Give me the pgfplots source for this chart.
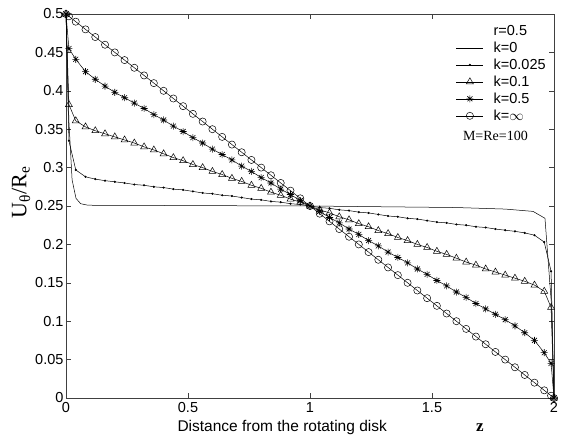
\documentclass[border=0pt]{standalone}
\usepackage{fontspec}
\setmainfont{Liberation Sans}
\newfontfamily\seriff{Liberation Serif}
\usepackage{pgfplots}
\usepackage{pgfplotstable}
\pgfplotsset{compat=1.18}

\pgfdeclareplotmark{mstar}{%
 \pgfpathmoveto{\pgfqpoint{-\pgfplotmarksize}{0pt}}\pgfpathlineto{\pgfqpoint{\pgfplotmarksize}{0pt}}%
 \pgfpathmoveto{\pgfqpoint{0pt}{-\pgfplotmarksize}}\pgfpathlineto{\pgfqpoint{0pt}{\pgfplotmarksize}}%
 \pgfpathmoveto{\pgfqpoint{-0.707\pgfplotmarksize}{-0.707\pgfplotmarksize}}\pgfpathlineto{\pgfqpoint{0.707\pgfplotmarksize}{0.707\pgfplotmarksize}}%
 \pgfpathmoveto{\pgfqpoint{-0.707\pgfplotmarksize}{0.707\pgfplotmarksize}}\pgfpathlineto{\pgfqpoint{0.707\pgfplotmarksize}{-0.707\pgfplotmarksize}}%
 \pgfusepathqstroke}

\pgfplotstableread{
z      kinf   k05    k01    k0025
0      0.500  0.500  0.500  0.500
0.012  0.497  0.455  0.382  0.335
0.04   0.490  0.441  0.361  0.297
0.08   0.480  0.425  0.353  0.288
0.12   0.470  0.415  0.348  0.285
0.16   0.460  0.406  0.344  0.283
0.20   0.450  0.398  0.340  0.2815
0.24   0.440  0.391  0.336  0.280
0.28   0.430  0.384  0.332  0.278
0.32   0.420  0.377  0.327  0.277
0.36   0.410  0.369  0.323  0.275
0.40   0.400  0.362  0.318  0.274
0.44   0.390  0.354  0.313  0.272
0.48   0.380  0.347  0.309  0.271
0.52   0.370  0.339  0.304  0.269
0.56   0.360  0.332  0.300  0.267
0.60   0.350  0.324  0.295  0.266
0.64   0.340  0.317  0.291  0.264
0.68   0.330  0.310  0.286  0.263
0.72   0.320  0.302  0.282  0.261
0.76   0.310  0.295  0.277  0.259
0.80   0.300  0.287  0.273  0.258
0.84   0.290  0.280  0.268  0.256
0.88   0.280  0.272  0.264  0.255
0.92   0.270  0.265  0.259  0.253
0.96   0.260  0.257  0.255  0.252
1.00   0.250  0.250  0.250  0.250
1.04   0.240  0.243  0.245  0.248
1.08   0.230  0.235  0.241  0.247
1.12   0.220  0.228  0.236  0.245
1.16   0.210  0.220  0.232  0.244
1.20   0.200  0.213  0.227  0.242
1.24   0.190  0.205  0.223  0.241
1.28   0.180  0.198  0.218  0.239
1.32   0.170  0.190  0.214  0.237
1.36   0.160  0.183  0.209  0.236
1.40   0.150  0.176  0.205  0.234
1.44   0.140  0.168  0.200  0.233
1.48   0.130  0.161  0.196  0.231
1.52   0.120  0.153  0.191  0.229
1.56   0.110  0.146  0.187  0.228
1.60   0.100  0.138  0.182  0.226
1.64   0.090  0.131  0.177  0.225
1.68   0.080  0.123  0.173  0.223
1.72   0.070  0.116  0.168  0.222
1.76   0.060  0.109  0.164  0.220
1.80   0.050  0.102  0.160  0.2185
1.84   0.040  0.094  0.156  0.217
1.88   0.030  0.085  0.152  0.215
1.92   0.020  0.075  0.147  0.212
1.96   0.010  0.059  0.139  0.203
1.988  0.003  0.045  0.118  0.165
2.0    0.000  0.000  0.000  0.000
}\datatable

\begin{document}
\begin{tikzpicture}
\useasboundingbox (-66pt,-42pt) rectangle (500pt,398pt);
\begin{axis}[
  at={(0,0)}, anchor=south west,
  scale only axis, width=488pt, height=384pt,
  clip mode=individual,
  xmin=0, xmax=2, ymin=0, ymax=0.5,
  xtick={0,0.5,1,1.5,2},
  ytick={0,0.05,0.1,0.15,0.2,0.25,0.3,0.35,0.4,0.45,0.5},
  scaled ticks=false,
  xticklabels={0,0.5,1,1.5,2},
  yticklabels={0,0.05,0.1,0.15,0.2,0.25,0.3,0.35,0.4,0.45,0.5},
  tick align=inside, major tick length=5pt,
  tick style={black!75, line width=0.5pt},
  axis line style={black!75, line width=0.6pt},
  ticklabel style={font=\fontsize{14.5}{16}\selectfont},
  xticklabel style={yshift=-1pt},
  yticklabel style={xshift=1pt},
  legend image code/.code={\draw[mark repeat=2,mark phase=2,#1] plot coordinates {(0pt,0pt) (13.5pt,0pt) (27pt,0pt)};},
  legend style={draw=none, fill=none, at={(0.797,0.978)}, anchor=north west,
    font=\fontsize{14.5}{16}\selectfont, row sep=2pt, inner sep=1pt,
    nodes={inner sep=1.5pt},
    /tikz/every odd column/.append style={column sep=8.5pt}},
  legend cell align=left,
  every axis plot/.append style={black, line width=0.5pt},
]
\addlegendimage{empty legend}
\addlegendentry{r=0.5}
\addplot[no marks] coordinates {
(0,0.5) (0.012,0.36) (0.025,0.284) (0.041,0.26) (0.06,0.253) (0.09,0.251)
(1.0,0.250) (1.6,0.248) (1.8,0.246) (1.914,0.243) (1.963,0.234) (1.99,0.12) (2.0,0)};
\addlegendentry{k=0}
\addplot[mark=*, mark size=0.8pt] table[x=z,y=k0025] {\datatable};
\addlegendentry{k=0.025}
\addplot[mark=triangle, mark size=4pt, mark options={line width=0.5pt}] table[x=z,y=k01] {\datatable};
\addlegendentry{k=0.1}
\addplot[mark=mstar, mark size=3.5pt, mark options={line width=0.6pt}] table[x=z,y=k05] {\datatable};
\addlegendentry{k=0.5}
\addplot[mark=o, mark size=3.6pt, mark options={line width=0.5pt}] table[x=z,y=kinf] {\datatable};
\addlegendentry{k=$\infty$}
\node[font=\seriff\fontsize{14}{16}\selectfont] at (axis description cs:0.88,0.683) {M=Re=100};
\node[font=\fontsize{15.5}{18}\selectfont] at (axis description cs:0.443,-0.078) {Distance from the rotating disk};
\node[font=\seriff\bfseries\fontsize{17}{18}\selectfont] at (axis description cs:0.848,-0.078) {z};
\node[rotate=90, font=\seriff\fontsize{22}{24}\selectfont] at (axis description cs:-0.092,0.536) {U\textsubscript{θ}/R\textsubscript{e}};
\end{axis}
\end{tikzpicture}
\end{document}
